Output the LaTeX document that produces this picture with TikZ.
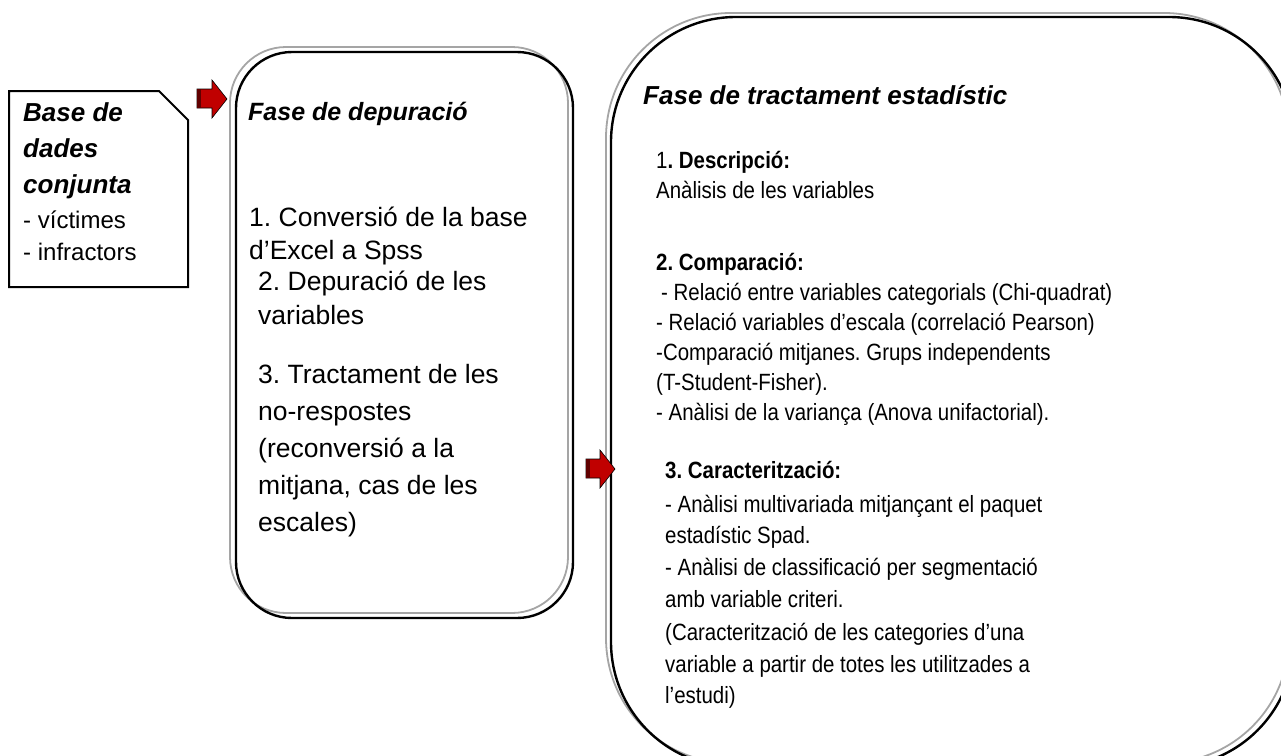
\documentclass[tikz,border=0pt]{standalone}
\usepackage{fontspec}
\setmainfont{Liberation Sans}
\newfontfamily\narrowsf[FakeStretch=0.87]{Liberation Sans}
\usetikzlibrary{positioning}
\frenchspacing

\definecolor{arrowred}{RGB}{192,0,0}
\definecolor{arrowdark}{RGB}{96,0,0}
\definecolor{shadegray}{RGB}{165,165,165}

\tikzstyle{frame} = [draw, line width=2.4pt]
\tikzstyle{shadow} = [draw=shadegray, line width=1.8pt]
\tikzstyle{txt} = [anchor=base west, inner sep=0pt]
\tikzstyle{headtxt} = [txt, font=\fontsize{26}{30}\selectfont\bfseries\itshape]
\tikzstyle{doctxt} = [txt, font=\fontsize{24}{28}\selectfont]
\tikzstyle{midtxt} = [txt, font=\fontsize{26.5}{30}\selectfont]
\tikzstyle{rtxt} = [txt, font=\fontsize{23.5}{28}\narrowsf]
\tikzstyle{bigarrow} = [draw, line width=0.6pt, fill=arrowred]

\begin{document}
\begin{tikzpicture}[x=1pt, y=-1pt]
    \useasboundingbox (0,0) rectangle (1281,755);
    \clip (0,0) rectangle (1281,755);

    % source document
    \draw[line width=2pt] (9,91) -- (159,91) -- (188,120) -- (188,287) -- (9,287) -- cycle;
    \node[headtxt] (base) at (23,121) {Base de};
    \node[headtxt] (dades) at (23,157) {dades};
    \node[headtxt] (conj) at (23,193) {conjunta};
    \node[doctxt] (vict) at (23,228) {- víctimes};
    \node[doctxt] (infr) at (23,260) {- infractors};

    % phase boxes
    \draw[shadow, rounded corners=56pt] (230,47) rectangle (568,613);
    \draw[frame, rounded corners=56pt] (236,52) rectangle (573,618);
    \draw[shadow, rounded corners=125pt] (606,13) rectangle (1289,763);
    \draw[frame, rounded corners=125pt] (611,17) rectangle (1294,767);

    % arrows
    \foreach \ax/\ay/\hx in {197/80/15, 586/450/14} {
        \draw[bigarrow] (\ax,\ay+9) -- ++(\hx,0) -- ++(0,-9) -- ++(15,19) -- ++(-15,19)
            -- ++(0,-10) -- ++(-\hx,0) -- cycle;
        \fill[arrowdark] (\ax,\ay+9) rectangle ++(4,19);
    }

    % depuracio
    \node[headtxt, font=\fontsize{25}{30}\selectfont\bfseries\itshape] (depTitle) at (248,120) {Fase de depuració};
    \foreach \y/\t in {226/{1. Conversió de la base}, 259/{d’Excel a Spss}} {
        \node[midtxt] (conv\y) at (249,\y) {\t};
    }
    \foreach \y/\t in {290/{2. Depuració de les}, 324/{variables}, 383/{3. Tractament de les},
        420/{no-respostes}, 457/{(reconversió a la}, 494/{mitjana, cas de les}, 531/{escales)}} {
        \node[midtxt] (dep\y) at (258,\y) {\t};
    }

    % tractament
    \node[headtxt] (tracTitle) at (643,104) {Fase de tractament estadístic};
    \node[rtxt] (desc) at (656,168) {1\textbf{. Descripció:}};
    \node[rtxt] (descA) at (656,198) {Anàlisis de les variables};
    \node[rtxt] (comp) at (656,270) {\textbf{2. Comparació:}};
    \foreach \y/\t in {300/{\hspace{5pt}- Relació entre variables categorials (Chi-quadrat)},
        330/{- Relació variables d’escala (correlació Pearson)},
        360/{-Comparació mitjanes. Grups independents},
        390/{(T-Student-Fisher).},
        420/{- Anàlisi de la variança (Anova unifactorial).}} {
        \node[rtxt] (comp\y) at (656,\y) {\t};
    }
    \node[rtxt] (carac) at (665,478) {\textbf{3. Caracterització:}};
    \foreach \y/\t in {512/{- Anàlisi multivariada mitjançant el paquet},
        543/{estadístic Spad.},
        575/{- Anàlisi de classificació per segmentació},
        607/{amb variable criteri.},
        640/{(Caracterització de les categories d’una},
        672/{variable a partir de totes les utilitzades a},
        703/{l’estudi)}} {
        \node[rtxt] (carac\y) at (665,\y) {\t};
    }
\end{tikzpicture}
\end{document}
